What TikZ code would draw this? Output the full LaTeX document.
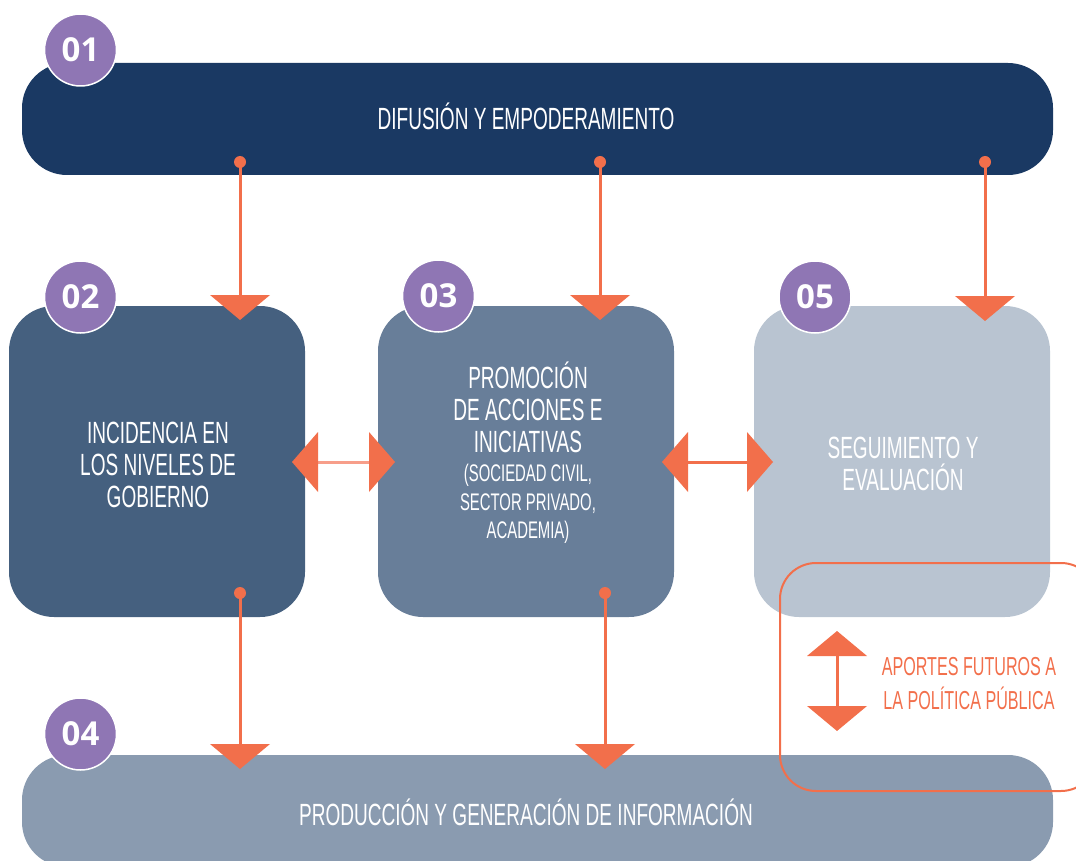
\documentclass[tikz,border=0pt]{standalone}
\usepackage{fontspec}
\setmainfont{Liberation Sans}[FakeStretch=0.62]
\newfontfamily\badgefont{Open Sans}
\usetikzlibrary{arrows.meta}
\definecolor{navy}{HTML}{1A3963}
\definecolor{boxA}{HTML}{45607F}
\definecolor{boxB}{HTML}{687E99}
\definecolor{boxC}{HTML}{B9C4D1}
\definecolor{boxD}{HTML}{8A9BB0}
\definecolor{badgec}{HTML}{8F76B4}
\definecolor{orng}{HTML}{F26F4B}
\definecolor{lorng}{HTML}{F79E8A}
\tikzset{
  panel/.style={rectangle, rounded corners=45pt, inner sep=0pt, draw=none},
  badgenode/.style={circle, fill=badgec, draw=white, line width=1.5pt, minimum size=72pt, inner sep=0pt,
    font=\badgefont\bfseries\fontsize{33}{33}\selectfont, text=white},
  dotnode/.style={circle, fill=orng, inner sep=0pt, minimum size=12pt},
  flow/.style={draw=orng, line width=3pt, -{Triangle[width=60pt,length=25pt,color=orng,line width=0pt]}},
  link/.style={draw=lorng, line width=3pt, {Triangle[width=60pt,length=26pt,color=orng,line width=0pt]}-{Triangle[width=60pt,length=26pt,color=orng,line width=0pt]}},
  vlink/.style={draw=orng, line width=3pt, {Triangle[width=60pt,length=25pt,color=orng,line width=0pt]}-{Triangle[width=60pt,length=25pt,color=orng,line width=0pt]}},
  bigtxt/.style={text=white, align=center, inner sep=0pt, anchor=base, font=\fontsize{30.7}{32}\selectfont},
  orngtxt/.style={text=orng, align=center, inner sep=0pt, anchor=base, font=\fontsize{26}{34}\selectfont},
}
\begin{document}
\begin{tikzpicture}[x=1pt, y=-1pt]
\useasboundingbox (0,0) rectangle (1076,861);
\clip (0,0) rectangle (1076,861);
% panels
\node[panel, fill=navy, minimum width=1031pt, minimum height=112pt] (p1) at (537.5,119) {};
\node[panel, fill=boxA, minimum width=296pt, minimum height=311pt] (p2) at (157,461.5) {};
\node[panel, fill=boxB, minimum width=296pt, minimum height=311pt] (p3) at (526,461.5) {};
\node[panel, fill=boxC, minimum width=296pt, minimum height=311pt] (p5) at (902,461.5) {};
\node[panel, fill=boxD, minimum width=1031pt, minimum height=112pt] (p4) at (537.5,811) {};
% texts
\node[bigtxt] (t1) at (526,130) {DIFUSIÓN Y EMPODERAMIENTO};
\node[bigtxt] (t4) at (526,825) {PRODUCCIÓN Y GENERACIÓN DE INFORMACIÓN};
\node[bigtxt] (t2) at (158,507) {INCIDENCIA EN\\LOS NIVELES DE\\GOBIERNO};
\node[bigtxt] (t5) at (903,490) {SEGUIMIENTO Y\\EVALUACIÓN};
\node[bigtxt] (t3) at (528,538) {PROMOCIÓN\\DE ACCIONES E\\INICIATIVAS\\[-3pt]
  {\fontsize{24}{29}\selectfont (SOCIEDAD CIVIL,}\\[-3pt]{\fontsize{24}{29}\selectfont SECTOR PRIVADO,}\\[-4pt]{\fontsize{24}{29}\selectfont ACADEMIA)}};
% badges
\node[badgenode] (b1) at (80.5,50) {01};
\node[badgenode] (b2) at (80.5,297) {02};
\node[badgenode] (b3) at (438.5,296) {03};
\node[badgenode] (b5) at (815,297) {05};
\node[badgenode] (b4) at (80.5,734) {04};
% dots and tips
\node[dotnode] (d1) at (240,162) {};
\node[dotnode] (d2) at (600,162) {};
\node[dotnode] (d3) at (985,162) {};
\node[dotnode] (d4) at (240,593) {};
\node[dotnode] (d5) at (605,593) {};
\coordinate (e1) at (240,320);
\coordinate (e2) at (600,320);
\coordinate (e3) at (985,321);
\coordinate (e4) at (240,769);
\coordinate (e5) at (605,769);
\draw[flow] (d1.center) -- (e1);
\draw[flow] (d2.center) -- (e2);
\draw[flow] (d3.center) -- (e3);
\draw[flow] (d4.center) -- (e4);
\draw[flow] (d5.center) -- (e5);
% horizontal double arrows
\coordinate (h1) at (292,462);
\coordinate (h2) at (395,462);
\coordinate (h3) at (662,462);
\coordinate (h4) at (773,462);
\draw[link] (h1) -- (h2);
\draw[link, draw=orng] (h3) -- (h4);
% future contributions
\draw[draw=orng, line width=2pt, rounded corners=36pt] (780,563) rectangle (1097,791);
\coordinate (v1) at (837,631);
\coordinate (v2) at (837,731);
\draw[vlink] (v1) -- (v2);
\node[orngtxt] (t6) at (969,709) {APORTES FUTUROS A\\LA POLÍTICA PÚBLICA};
\end{tikzpicture}
\end{document}
